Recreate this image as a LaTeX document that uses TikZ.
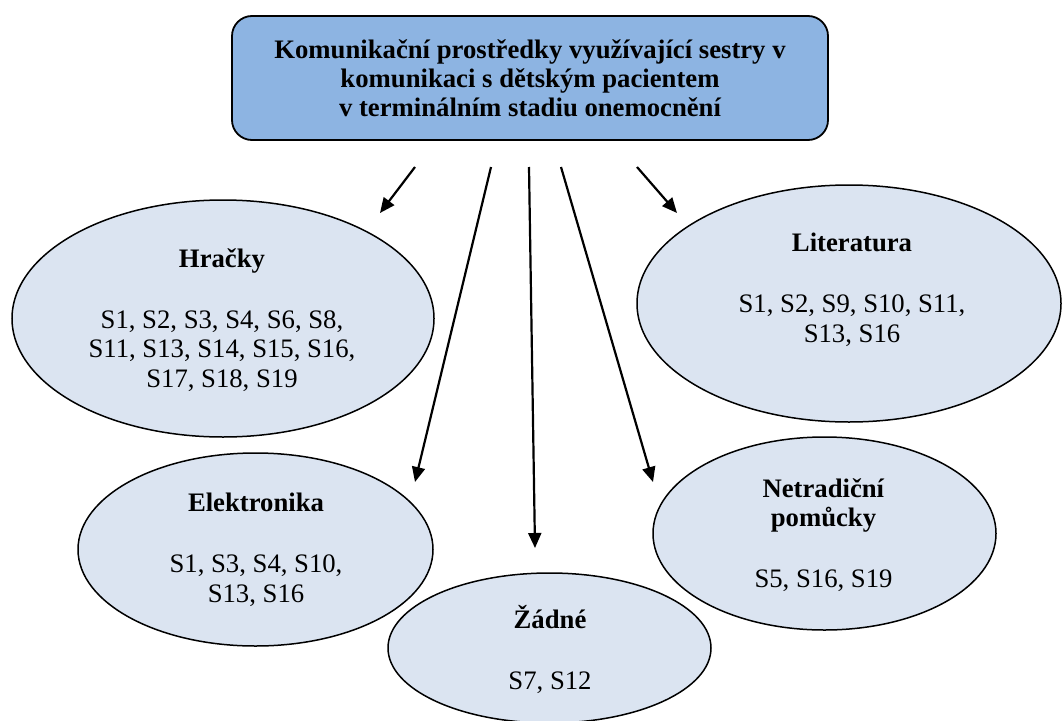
\documentclass[tikz,border=0pt]{standalone}
\usepackage{fontspec}
\setmainfont{Liberation Serif}
\usetikzlibrary{arrows.meta,shapes.geometric}

\definecolor{headfill}{HTML}{8DB4E2}
\definecolor{bubblefill}{HTML}{DBE4F1}

\begin{document}
\begin{tikzpicture}[x=1pt,y=-1pt,
  headbox/.style={draw=black, line width=1.8pt, fill=headfill, rounded corners=20pt,
    minimum width=596pt, minimum height=124pt, inner sep=0pt, align=center,
    font=\fontsize{26.7}{29}\selectfont\bfseries},
  bubble/.style={ellipse, draw=black, line width=1.5pt, fill=bubblefill, inner sep=0pt},
  bubtext/.style={align=center, inner sep=0pt, font=\fontsize{26.7}{29.5}\selectfont},
  link/.style={line width=2.2pt, -{Triangle[length=15pt,width=13pt]}}
]
\useasboundingbox (0,0) rectangle (1062,720);

% heading
\node[headbox] (head) at (530,78)
  {Komunikační prostředky využívající sestry v\\
   komunikaci s dětským pacientem\\
   v terminálním stadiu onemocnění};

% category ellipses
\node[bubble, minimum width=422pt, minimum height=237pt] (hracky) at (223,318.5) {};
\node[bubble, minimum width=424pt, minimum height=237pt] (lit) at (849,303.5) {};
\node[bubble, minimum width=355pt, minimum height=193pt] (elek) at (255.5,549.5) {};
\node[bubble, minimum width=343pt, minimum height=193pt] (netr) at (824.5,533.5) {};
\node[bubble, minimum width=323pt, minimum height=150pt] (zadne) at (549.5,648) {};

% texts inside the ellipses
\node[bubtext] (hrackyT) at (222,320)
  {\textbf{Hračky}\\[31.5pt]
   S1, S2, S3, S4, S6, S8,\\
   S11, S13, S14, S15, S16,\\
   S17, S18, S19};
\node[bubtext] (litT) at (852,290)
  {\textbf{Literatura}\\[31.5pt]
   S1, S2, S9, S10, S11,\\
   S13, S16};
\node[bubtext] (elekT) at (256,550)
  {\textbf{Elektronika}\\[31.5pt]
   S1, S3, S4, S10,\\
   S13, S16};
\node[bubtext] (netrT) at (823.5,535)
  {\textbf{Netradiční}\\
   \textbf{pomůcky}\\[31.5pt]
   S5, S16, S19};
\node[bubtext] (zadneT) at (550,649)
  {\textbf{Žádné}\\[31.5pt]
   S7, S12};

% arrow end points
\coordinate (s1) at (415,167);
\coordinate (s2) at (491,167);
\coordinate (s3) at (529,167);
\coordinate (s4) at (561,167);
\coordinate (s5) at (637,167);
\coordinate (e1) at (380,213);
\coordinate (e2) at (415,482);
\coordinate (e3) at (535,548);
\coordinate (e4) at (653,482);
\coordinate (e5) at (677,213);

\draw[link] (s1) -- (e1);
\draw[link] (s2) -- (e2);
\draw[link] (s3) -- (e3);
\draw[link] (s4) -- (e4);
\draw[link] (s5) -- (e5);
\end{tikzpicture}
\end{document}
